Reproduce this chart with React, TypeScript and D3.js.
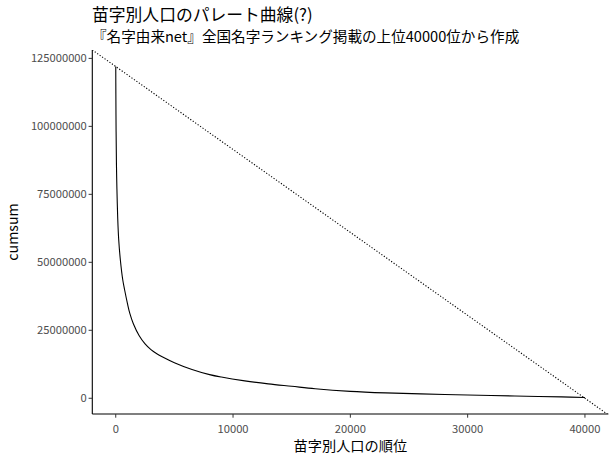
import React from "react";
import * as d3 from "d3";

const ranks = [1, 10, 30, 60, 100, 170, 250, 400, 600, 750, 1000, 1200, 1500, 2000, 2500, 3000, 3500, 4000, 5000, 6500, 8000, 9000, 11000, 13000, 15000, 17000, 20000, 23000, 26000, 29000, 32000, 35000, 38000, 40000];
const cumsumM = [122.0, 112, 98, 86, 77, 66, 58.5, 50.6, 43.5, 40.0, 34.8, 31.2, 27.4, 23.0, 20.0, 17.9, 16.4, 15.2, 13.1, 10.6, 8.7, 7.8, 6.4, 5.3, 4.4, 3.5, 2.55, 1.98, 1.6, 1.3, 1.0, 0.75, 0.5, 0.3];
const yTicks = [0, 25000000, 50000000, 75000000, 100000000, 125000000];
const xTicks = [0, 10000, 20000, 30000, 40000];

const title = "苗字別人口のパレート曲線(?)";
const subtitle = "『名字由来net』全国名字ランキング掲載の上位40000位から作成";
const xTitle = "苗字別人口の順位";
const yTitle = "cumsum";

const W = 614;
const H = 460;
const FONT = "'Noto Sans CJK JP', 'Noto Sans', sans-serif";

function expand(ext: [number, number]): [number, number] {
  const r = ext[1] - ext[0];
  return [ext[0] - 0.05 * r, ext[1] + 0.05 * r];
}

export default function App() {
  const data = ranks.map((r, i) => ({ x: r, y: cumsumM[i] * 1e6 }));
  const left = 92.3;
  const right = 608.4;
  const top = 50;
  const bottom = 414;
  const x = d3.scaleLinear().domain(expand(d3.extent(data, (d) => d.x) as [number, number])).range([left, right]);
  const y = d3.scaleLinear().domain(expand(d3.extent(data, (d) => d.y) as [number, number])).range([bottom, top]);
  const line = d3.line<{ x: number; y: number }>().x((d) => x(d.x)).y((d) => y(d.y)).curve(d3.curveCatmullRom.alpha(0.5));

  const yMax = d3.max(data, (d) => d.y)!;
  const xEnd = d3.max(data, (d) => d.x)!;
  const slope = -yMax / xEnd;
  const [dx0, dx1] = x.domain();
  const abl = [
    { x: dx0, y: yMax + slope * dx0 },
    { x: dx1, y: yMax + slope * dx1 },
  ];
  const ablLine = d3.line<{ x: number; y: number }>().x((d) => x(d.x)).y((d) => y(d.y));

  return (
    <div style={{ position: "absolute", left: 0, top: 0 }}>
      <svg width={W} height={H} style={{ display: "block", background: "#fff" }} fontFamily={FONT}>
        <defs>
          <clipPath id="panel">
            <rect x={left} y={top} width={right - left} height={bottom - top} />
          </clipPath>
        </defs>
        <text x={92} y={21} fontSize={16.8} fill="#000">{title}</text>
        <text x={92} y={42} fontSize={14.6} fill="#000">{subtitle}</text>

        <g clipPath="url(#panel)">
          <path d={ablLine(abl)!} fill="none" stroke="#000" strokeWidth={1.1} strokeDasharray="1.2,1.8" />
          <path d={line(data)!} fill="none" stroke="#000" strokeWidth={1.1} />
        </g>

        <line x1={left} x2={left} y1={top} y2={bottom} stroke="#000" strokeWidth={1.1} />
        <line x1={left} x2={right} y1={bottom} y2={bottom} stroke="#000" strokeWidth={1.1} />

        {yTicks.map((t) => (
          <g key={"y" + t}>
            <line x1={left - 3.7} x2={left} y1={y(t)} y2={y(t)} stroke="#333" strokeWidth={1} />
            <text x={left - 5.5} y={y(t)} dy="0.35em" textAnchor="end" fontSize={11.2} fill="#4D4D4D">
              {d3.format("d")(t)}
            </text>
          </g>
        ))}
        {xTicks.map((t) => (
          <g key={"x" + t}>
            <line x1={x(t)} x2={x(t)} y1={bottom} y2={bottom + 3.7} stroke="#333" strokeWidth={1} />
            <text x={x(t)} y={bottom + 19} textAnchor="middle" fontSize={11.2} fill="#4D4D4D">
              {d3.format("d")(t)}
            </text>
          </g>
        ))}

        <text x={(left + right) / 2} y={451} textAnchor="middle" fontSize={14.2} fill="#000">{xTitle}</text>
        <text transform={`translate(18,${(top + bottom) / 2}) rotate(-90)`} textAnchor="middle" fontSize={14.2} fill="#000">{yTitle}</text>
      </svg>
    </div>
  );
}
